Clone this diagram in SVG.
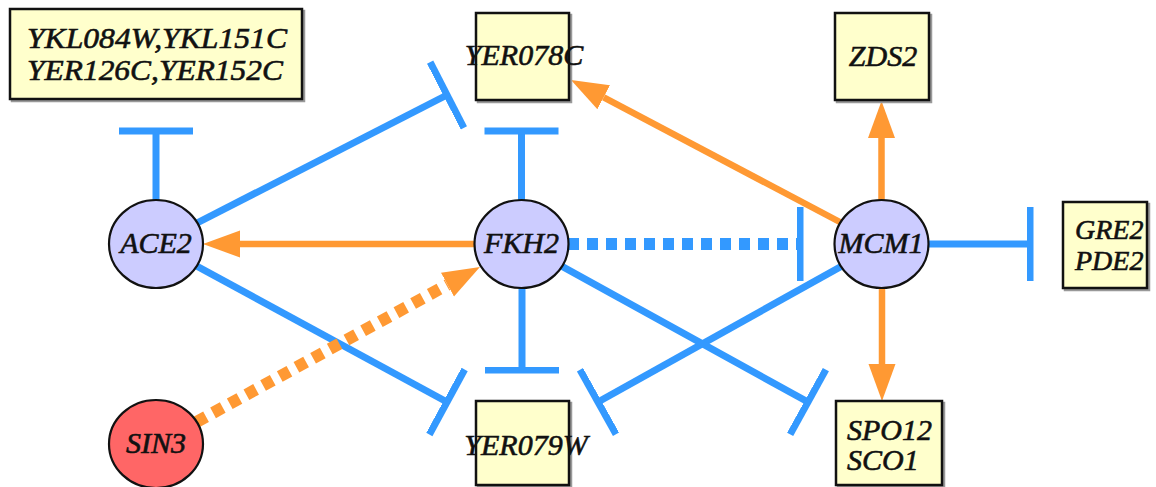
<svg xmlns="http://www.w3.org/2000/svg" width="1156" height="487" viewBox="0 0 1156 487">
<style>
.inh{stroke:#3399ff;stroke-width:7;fill:none;marker-end:url(#tee)}
.act{stroke:#ff9933;stroke-width:6.5;fill:none;marker-end:url(#arr)}
.dash{stroke-width:12;stroke-dasharray:11 8}
.box{fill:#ffffcc;stroke:#111;stroke-width:2.5}
.shadow{fill:none;stroke:#999;stroke-width:2.5}
.circ{fill:#ccccff;stroke:#111;stroke-width:2.2}
.red{fill:#ff6666}
text{font-family:"Liberation Serif","Times New Roman",serif;font-style:italic;font-size:30px;fill:#111;stroke:#111;stroke-width:0.6}
.c{text-anchor:middle}
.s{font-size:28px}
</style>
<defs>
<marker id="tee" markerUnits="userSpaceOnUse" viewBox="0 -38 8 76" markerWidth="8" markerHeight="76" refX="3.5" refY="0" orient="auto">
<rect x="0" y="-37" width="7" height="74" fill="#3399ff"/>
</marker>
<marker id="arr" markerUnits="userSpaceOnUse" viewBox="0 -14 37 28" markerWidth="37" markerHeight="28" refX="0" refY="0" orient="auto">
<path d="M0,-13.5 L37,0 L0,13.5 Z" fill="#ff9933"/>
</marker>
</defs>
<g id="connectors">
<line class="inh" x1="156" y1="244" x2="156" y2="131"/>
<line class="inh" x1="156" y1="244" x2="447" y2="95"/>
<line class="inh" x1="521.5" y1="244" x2="521.5" y2="131"/>
<line class="inh dash" x1="568" y1="244" x2="800" y2="244"/>
<line class="inh" x1="881.5" y1="244" x2="1030" y2="244"/>
<line class="inh" x1="156" y1="244" x2="447" y2="402"/>
<line class="inh" x1="522" y1="244" x2="522" y2="370"/>
<line class="inh" x1="881.5" y1="244" x2="598" y2="402"/>
<line class="inh" x1="521.5" y1="244" x2="808" y2="402"/>
<line class="act" x1="521" y1="244" x2="240" y2="244"/>
<line class="act" x1="881.5" y1="244" x2="603.7" y2="97.3"/>
<line class="act" x1="881.5" y1="244" x2="881.5" y2="138"/>
<line class="act" x1="882" y1="244" x2="882" y2="364"/>
<line class="act dash" x1="196.4" y1="422" x2="447.5" y2="284.7"/>
</g>
<g id="n_ykl">
<rect class="shadow" x="12" y="11" width="292" height="90"/>
<rect class="box" x="10" y="9" width="292" height="90"/>
<text class="c" x="157" y="48" textLength="260" lengthAdjust="spacingAndGlyphs">YKL084W,YKL151C</text>
<text class="c" x="155" y="80" textLength="256" lengthAdjust="spacingAndGlyphs">YER126C,YER152C</text>
</g>
<g id="n_yer078c">
<rect class="shadow" x="478" y="15" width="93" height="87"/>
<rect class="box" x="476" y="13" width="93" height="87"/>
<text class="c" x="524" y="65">YER078C</text>
</g>
<g id="n_zds2">
<rect class="shadow" x="837" y="15" width="94" height="87"/>
<rect class="box" x="835" y="13" width="94" height="87"/>
<text class="c" x="883" y="66">ZDS2</text>
</g>
<g id="n_gre2">
<rect class="shadow" x="1065" y="204" width="84" height="86"/>
<rect class="box" x="1063" y="202" width="84" height="86"/>
<text class="s" x="1075" y="239">GRE2</text>
<text class="s" x="1075" y="270">PDE2</text>
</g>
<g id="n_yer079w">
<rect class="shadow" x="478" y="403" width="93" height="84"/>
<rect class="box" x="476" y="401" width="93" height="84"/>
<text class="c" x="526" y="455">YER079W</text>
</g>
<g id="n_spo12">
<rect class="shadow" x="838" y="403" width="106" height="84"/>
<rect class="box" x="836" y="401" width="106" height="84"/>
<text x="847" y="440">SPO12</text>
<text x="847" y="470">SCO1</text>
</g>
<g id="n_ace2">
<ellipse class="circ" cx="156" cy="244" rx="47" ry="44"/>
<text class="c" x="156" y="253">ACE2</text>
</g>
<g id="n_fkh2">
<ellipse class="circ" cx="521.5" cy="244" rx="47" ry="44"/>
<text class="c" x="521.5" y="253">FKH2</text>
</g>
<g id="n_mcm1">
<ellipse class="circ" cx="881.5" cy="244" rx="47" ry="44"/>
<text class="c" x="881" y="253">MCM1</text>
</g>
<g id="n_sin3">
<ellipse class="circ red" cx="156" cy="444" rx="47" ry="44"/>
<text class="c" x="156" y="453">SIN3</text>
</g>
</svg>
